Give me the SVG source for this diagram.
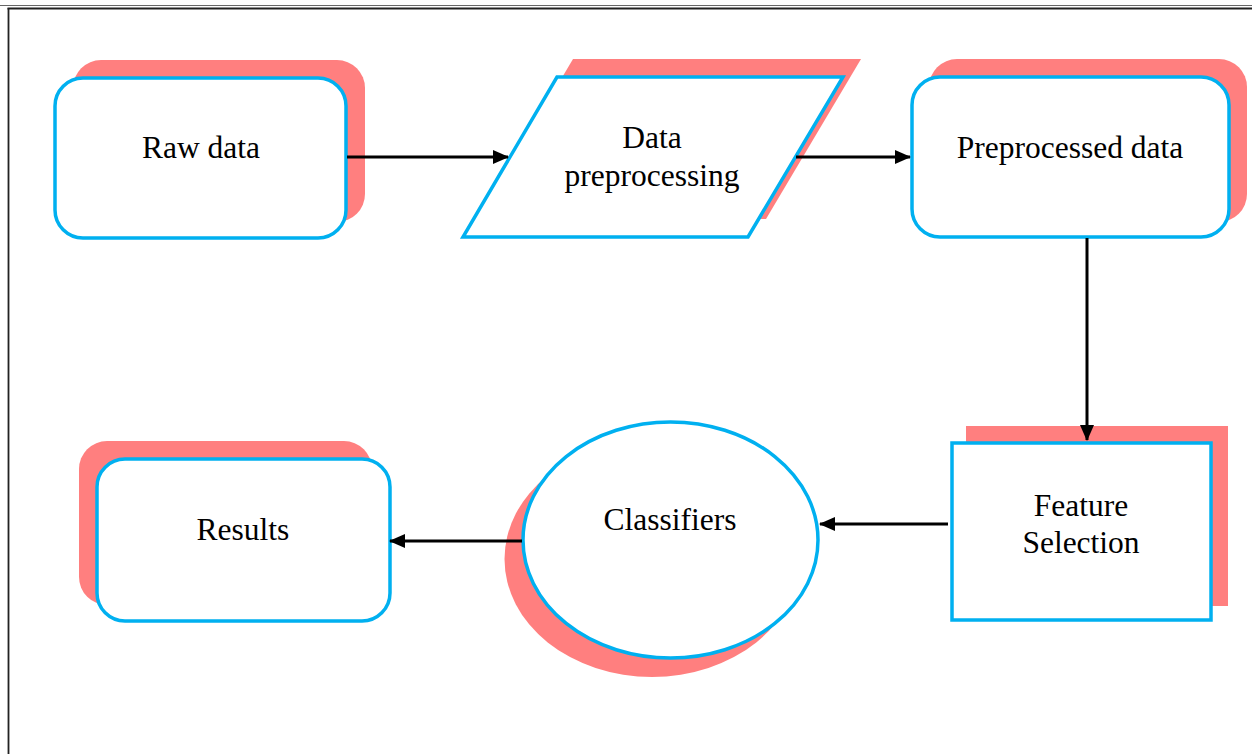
<svg xmlns="http://www.w3.org/2000/svg" width="1252" height="754" viewBox="0 0 1252 754">
<defs>
<style>
.sh{fill:#FF7F7F;stroke:none}
.nd{fill:#fff;stroke:#00B0F0;stroke-width:3.5}
.tx{font-family:"Liberation Serif","Times New Roman",serif;font-size:31.5px;fill:#000;text-anchor:middle}
.cn{stroke:#000;stroke-width:3;fill:none;marker-end:url(#ah)}
</style>
<marker id="ah" markerWidth="16" markerHeight="14" refX="15" refY="7" orient="auto" markerUnits="userSpaceOnUse">
<path d="M0,0 L16,7 L0,14 Z" fill="#000"/>
</marker>
</defs>
<rect width="1252" height="754" fill="#fff"/>
<g id="frame">
<line x1="0" y1="5.5" x2="1252" y2="5.5" stroke="#666" stroke-width="1"/>
<line x1="7.5" y1="8.5" x2="1252" y2="8.5" stroke="#222" stroke-width="1.8"/>
<line x1="8.5" y1="8" x2="8.5" y2="754" stroke="#222" stroke-width="1.8"/>
</g>
<g id="raw-data">
<rect class="sh" x="73" y="60" width="292" height="162" rx="28"/>
<rect class="nd" x="55" y="78" width="291" height="160" rx="28"/>
<text class="tx" x="201" y="158">Raw data</text>
</g>
<g id="data-preprocessing">
<polygon class="sh" points="573,59 861,59 766,219 478,219"/>
<polygon class="nd" points="557,77 843,77 748,237 463,237"/>
<text class="tx" x="652" y="148">Data</text>
<text class="tx" x="652" y="186">preprocessing</text>
</g>
<g id="preprocessed-data">
<rect class="sh" x="929" y="59" width="318" height="163" rx="28"/>
<rect class="nd" x="912" y="77" width="317" height="160" rx="28"/>
<text class="tx" x="1070" y="158">Preprocessed data</text>
</g>
<g id="feature-selection">
<rect class="sh" x="966" y="426" width="262" height="180"/>
<rect class="nd" x="952" y="443" width="259" height="177"/>
<text class="tx" x="1081" y="516">Feature</text>
<text class="tx" x="1081" y="553">Selection</text>
</g>
<g id="classifiers">
<ellipse class="sh" cx="652" cy="559" rx="147.5" ry="118"/>
<ellipse class="nd" cx="670.5" cy="540" rx="147.5" ry="118"/>
<text class="tx" x="670" y="530">Classifiers</text>
</g>
<g id="results">
<rect class="sh" x="79" y="441" width="293" height="164" rx="28"/>
<rect class="nd" x="97" y="459" width="293" height="162" rx="28"/>
<text class="tx" x="243" y="540">Results</text>
</g>
<g id="connectors">
<line class="cn" x1="347" y1="157" x2="508" y2="157"/>
<line class="cn" x1="796" y1="157" x2="910" y2="157"/>
<line class="cn" x1="1087" y1="238" x2="1087" y2="440"/>
<line class="cn" x1="948" y1="524" x2="820" y2="524"/>
<line class="cn" x1="522" y1="541" x2="390" y2="541"/>
</g>
</svg>
